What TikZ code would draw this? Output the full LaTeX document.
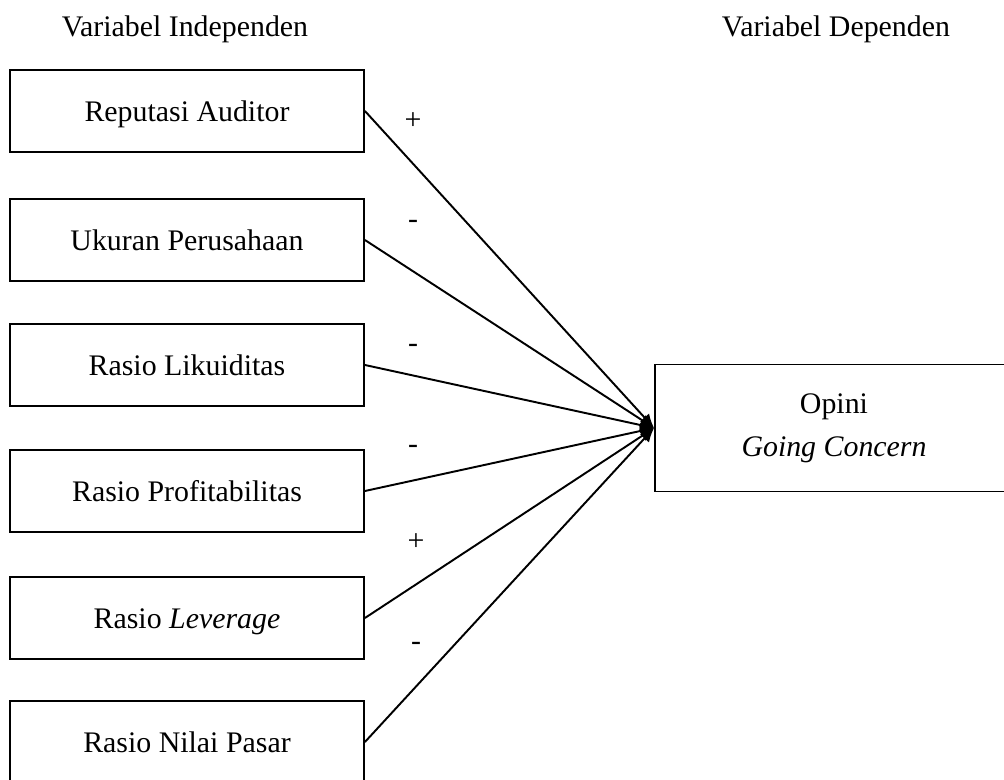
\documentclass[tikz,border=0pt]{standalone}
\usepackage{fontspec}
\setmainfont{Liberation Serif}
\usetikzlibrary{arrows.meta}

\begin{document}
\begin{tikzpicture}[x=0.02cm, y=-0.02cm,
	every node/.style={font=\fontsize{17}{24.5}\selectfont},
	varbox/.style={draw, line width=1.1pt, minimum width=7.08cm, minimum height=1.64cm, inner sep=0pt, text height=15pt, text depth=3pt},
	link/.style={line width=1.1pt, -{Latex[length=8pt,width=7pt]}},
	sign/.style={inner sep=0pt}]
			%%%%% START %%%%%
			\useasboundingbox (0, 0) rectangle (1004, 780);
			
			\node (hindep) at (185, 29) {Variabel Independen};
			\node (hdep) at (836, 29) {Variabel Dependen};
			
			\node[varbox] (reputasi) at (187, 111) {Reputasi Auditor};
			\node[varbox] (ukuran) at (187, 240) {Ukuran Perusahaan};
			\node[varbox] (likuid) at (187, 365) {Rasio Likuiditas};
			\node[varbox] (profit) at (187, 491) {Rasio Profitabilitas};
			\node[varbox] (leverage) at (187, 618) {Rasio \textit{Leverage}};
			\node[varbox] (pasar) at (187, 742) {Rasio Nilai Pasar};
			
			\node[draw, line width=1.1pt, minimum width=7.16cm, minimum height=2.54cm, align=center] (opini) at (834, 428) {Opini\\\textit{Going Concern}};
			
			\draw[link] (reputasi.east) -- (opini.west);
			\draw[link] (ukuran.east) -- (opini.west);
			\draw[link] (likuid.east) -- (opini.west);
			\draw[link] (profit.east) -- (opini.west);
			\draw[link] (leverage.east) -- (opini.west);
			\draw[link] (pasar.east) -- (opini.west);
			
			\node[sign] (s1) at (413, 121) {+};
			\node[sign] (s2) at (413, 224) {-};
			\node[sign] (s3) at (413, 348) {-};
			\node[sign] (s4) at (413, 449) {-};
			\node[sign] (s5) at (416, 542) {+};
			\node[sign] (s6) at (416, 646) {-};
			%%%%% END %%%%%
		\end{tikzpicture}
\end{document}
